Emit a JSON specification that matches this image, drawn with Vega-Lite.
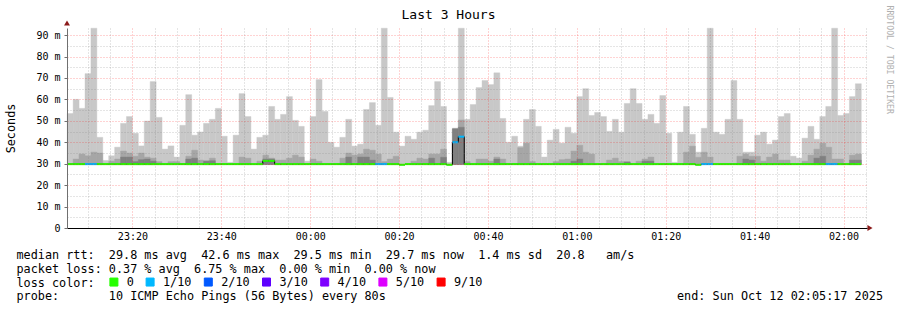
{
"$schema": "https://vega.github.io/schema/vega-lite/v6.json",
"width": 800, "height": 200,
"autosize": "none",
"padding": {"left": 67, "top": 28, "right": 30, "bottom": 82},
"background": "#ffffff",
"config": {"view": {"stroke": null}},
"title": {"text": "Last 3 Hours", "font": "DejaVu Sans Mono", "fontSize": 13, "fontWeight": "normal", "color": "#000000", "anchor": "middle", "frame": "group", "dx": -18.5, "dy": 21, "offset": 4},
"data": {"values": [
{"t":"2025-10-11T23:05:20","t2":"2025-10-11T23:06:40","mx":53.4,"med":29.8,"loss":"0"},
{"t":"2025-10-11T23:06:40","t2":"2025-10-11T23:08:00","mx":60,"p2":32.2,"med":29.8,"loss":"0"},
{"t":"2025-10-11T23:08:00","t2":"2025-10-11T23:09:20","mx":55.8,"p2":34.5,"med":29.8,"loss":"0"},
{"t":"2025-10-11T23:09:20","t2":"2025-10-11T23:10:40","mx":72,"p2":33.7,"med":29.8,"loss":"1/10"},
{"t":"2025-10-11T23:10:40","t2":"2025-10-11T23:12:00","mx":93.2,"p2":35.4,"med":29.8,"loss":"1/10"},
{"t":"2025-10-11T23:12:00","t2":"2025-10-11T23:13:20","mx":42.3,"p2":35,"med":29.8,"loss":"0"},
{"t":"2025-10-11T23:13:20","t2":"2025-10-11T23:14:40","mx":31.5,"med":29.8,"loss":"0"},
{"t":"2025-10-11T23:14:40","t2":"2025-10-11T23:16:00","mx":33.7,"p2":31.2,"med":29.8,"loss":"0"},
{"t":"2025-10-11T23:16:00","t2":"2025-10-11T23:17:20","mx":37.7,"p2":32.2,"med":29.8,"loss":"0"},
{"t":"2025-10-11T23:17:20","t2":"2025-10-11T23:18:40","mx":48.8,"p2":35.9,"p3":33.1,"med":29.8,"loss":"0"},
{"t":"2025-10-11T23:18:40","t2":"2025-10-11T23:20:00","mx":52,"p2":35,"p3":33.1,"med":29.8,"loss":"0"},
{"t":"2025-10-11T23:20:00","t2":"2025-10-11T23:21:20","mx":44.2,"p2":33.5,"p3":31,"med":29.8,"loss":"0"},
{"t":"2025-10-11T23:21:20","t2":"2025-10-11T23:22:40","mx":38.3,"p2":35,"p3":31.9,"med":29.8,"loss":"0"},
{"t":"2025-10-11T23:22:40","t2":"2025-10-11T23:24:00","mx":49.9,"p2":33.1,"p3":32.2,"med":29.8,"loss":"0"},
{"t":"2025-10-11T23:24:00","t2":"2025-10-11T23:25:20","mx":68.3,"p2":32.6,"p3":31.2,"med":29.8,"loss":"0"},
{"t":"2025-10-11T23:25:20","t2":"2025-10-11T23:26:40","mx":51.6,"p2":31,"med":29.8,"loss":"0"},
{"t":"2025-10-11T23:26:40","t2":"2025-10-11T23:28:00","mx":36.8,"med":29.8,"loss":"0"},
{"t":"2025-10-11T23:28:00","t2":"2025-10-11T23:29:20","mx":38.3,"p2":31,"med":29.8,"loss":"0"},
{"t":"2025-10-11T23:29:20","t2":"2025-10-11T23:30:40","mx":33.1,"p2":31,"med":29.8,"loss":"0"},
{"t":"2025-10-11T23:30:40","t2":"2025-10-11T23:32:00","mx":47.9,"med":29.8,"loss":"0"},
{"t":"2025-10-11T23:32:00","t2":"2025-10-11T23:33:20","mx":62.2,"p2":33.5,"p3":32.2,"med":29.8,"loss":"0"},
{"t":"2025-10-11T23:33:20","t2":"2025-10-11T23:34:40","mx":43.3,"p2":36.3,"p3":32.6,"med":29.8,"loss":"0"},
{"t":"2025-10-11T23:34:40","t2":"2025-10-11T23:36:00","mx":44.8,"p2":31.7,"med":29.8,"loss":"0"},
{"t":"2025-10-11T23:36:00","t2":"2025-10-11T23:37:20","mx":48.8,"p2":31.4,"p3":31.2,"med":29.8,"loss":"0"},
{"t":"2025-10-11T23:37:20","t2":"2025-10-11T23:38:40","mx":50.7,"p2":32.6,"p3":31.4,"med":29.8,"loss":"0"},
{"t":"2025-10-11T23:38:40","t2":"2025-10-11T23:40:00","mx":55.8,"med":29.8,"loss":"0"},
{"t":"2025-10-11T23:40:00","t2":"2025-10-11T23:41:20","mx":42.8,"med":29.8,"loss":"0"},
{"t":"2025-10-11T23:41:20","t2":"2025-10-11T23:42:40","mx":30.6,"med":29.8,"loss":"0"},
{"t":"2025-10-11T23:42:40","t2":"2025-10-11T23:44:00","mx":43.3,"med":29.8,"loss":"0"},
{"t":"2025-10-11T23:44:00","t2":"2025-10-11T23:45:20","mx":62.7,"p2":33.1,"med":29.8,"loss":"0"},
{"t":"2025-10-11T23:45:20","t2":"2025-10-11T23:46:40","mx":52,"p2":32.6,"med":29.8,"loss":"0"},
{"t":"2025-10-11T23:46:40","t2":"2025-10-11T23:48:00","mx":36.8,"med":29.8,"loss":"0"},
{"t":"2025-10-11T23:48:00","t2":"2025-10-11T23:49:20","mx":42.3,"p2":31.2,"med":29.8,"loss":"0"},
{"t":"2025-10-11T23:49:20","t2":"2025-10-11T23:50:40","mx":43.3,"p2":34,"p3":32.2,"med":31.3,"loss":"0"},
{"t":"2025-10-11T23:50:40","t2":"2025-10-11T23:52:00","mx":56.7,"p2":32.6,"p3":32.2,"med":31.3,"loss":"0"},
{"t":"2025-10-11T23:52:00","t2":"2025-10-11T23:53:20","mx":50.7,"p2":31.7,"med":29.8,"loss":"0"},
{"t":"2025-10-11T23:53:20","t2":"2025-10-11T23:54:40","mx":53,"p2":31.7,"med":29.8,"loss":"0"},
{"t":"2025-10-11T23:54:40","t2":"2025-10-11T23:56:00","mx":61.3,"p2":32.6,"med":29.8,"loss":"0"},
{"t":"2025-10-11T23:56:00","t2":"2025-10-11T23:57:20","mx":50.2,"p2":34,"med":29.8,"loss":"0"},
{"t":"2025-10-11T23:57:20","t2":"2025-10-11T23:58:40","mx":47.4,"p2":33.1,"med":29.8,"loss":"0"},
{"t":"2025-10-11T23:58:40","t2":"2025-10-12T00:00:00","mx":31.2,"med":29.8,"loss":"0"},
{"t":"2025-10-12T00:00:00","t2":"2025-10-12T00:01:20","mx":52,"p2":32.2,"med":29.8,"loss":"0"},
{"t":"2025-10-12T00:01:20","t2":"2025-10-12T00:02:40","mx":69.2,"p2":31.2,"med":29.8,"loss":"0"},
{"t":"2025-10-12T00:02:40","t2":"2025-10-12T00:04:00","mx":54.4,"med":29.8,"loss":"0"},
{"t":"2025-10-12T00:04:00","t2":"2025-10-12T00:05:20","mx":40,"med":29.8,"loss":"0"},
{"t":"2025-10-12T00:05:20","t2":"2025-10-12T00:06:40","mx":37.7,"med":29.8,"loss":"0"},
{"t":"2025-10-12T00:06:40","t2":"2025-10-12T00:08:00","mx":42.3,"p2":32.6,"med":29.8,"loss":"0"},
{"t":"2025-10-12T00:08:00","t2":"2025-10-12T00:09:20","mx":50.7,"p2":35,"p3":33.1,"med":29.8,"loss":"0"},
{"t":"2025-10-12T00:09:20","t2":"2025-10-12T00:10:40","mx":38.2,"p2":34,"med":29.8,"loss":"0"},
{"t":"2025-10-12T00:10:40","t2":"2025-10-12T00:12:00","mx":39.1,"p2":34.5,"p3":33.1,"med":29.8,"loss":"0"},
{"t":"2025-10-12T00:12:00","t2":"2025-10-12T00:13:20","mx":55.3,"p2":36.8,"p3":33.1,"med":29.8,"loss":"0"},
{"t":"2025-10-12T00:13:20","t2":"2025-10-12T00:14:40","mx":58.5,"p2":36.3,"p3":31.7,"med":29.8,"loss":"0"},
{"t":"2025-10-12T00:14:40","t2":"2025-10-12T00:16:00","mx":47.9,"p2":34.5,"med":29.8,"loss":"1/10"},
{"t":"2025-10-12T00:16:00","t2":"2025-10-12T00:17:20","mx":93.2,"p2":31,"med":29.8,"loss":"1/10"},
{"t":"2025-10-12T00:17:20","t2":"2025-10-12T00:18:40","mx":60.9,"p2":32.2,"med":29.8,"loss":"0"},
{"t":"2025-10-12T00:18:40","t2":"2025-10-12T00:20:00","mx":44.7,"p2":33.5,"med":29.8,"loss":"0"},
{"t":"2025-10-12T00:20:00","t2":"2025-10-12T00:21:20","mx":38.2,"med":29.5,"loss":"0"},
{"t":"2025-10-12T00:21:20","t2":"2025-10-12T00:22:40","mx":42.8,"med":29.8,"loss":"0"},
{"t":"2025-10-12T00:22:40","t2":"2025-10-12T00:24:00","mx":41.4,"p2":31.2,"med":29.8,"loss":"0"},
{"t":"2025-10-12T00:24:00","t2":"2025-10-12T00:25:20","mx":44.7,"p2":32.6,"med":29.8,"loss":"0"},
{"t":"2025-10-12T00:25:20","t2":"2025-10-12T00:26:40","mx":45.6,"p2":32.2,"med":29.8,"loss":"0"},
{"t":"2025-10-12T00:26:40","t2":"2025-10-12T00:28:00","mx":57.1,"p2":34.5,"p3":32.6,"med":29.8,"loss":"0"},
{"t":"2025-10-12T00:28:00","t2":"2025-10-12T00:29:20","mx":68.3,"p2":34.5,"med":29.8,"loss":"0"},
{"t":"2025-10-12T00:29:20","t2":"2025-10-12T00:30:40","mx":56.7,"p2":36.8,"p3":33,"med":29.8,"loss":"0"},
{"t":"2025-10-12T00:30:40","t2":"2025-10-12T00:32:00","mx":30.6,"med":29.5,"loss":"0"},
{"t":"2025-10-12T00:32:00","t2":"2025-10-12T00:33:20","mx":46.5,"p2":46.5,"p3":46.2,"med":40,"loss":"1/10"},
{"t":"2025-10-12T00:33:20","t2":"2025-10-12T00:34:40","mx":93.2,"p2":50.4,"p3":47,"med":42.6,"loss":"1/10"},
{"t":"2025-10-12T00:34:40","t2":"2025-10-12T00:36:00","mx":50.7,"p2":31,"med":29.8,"loss":"0"},
{"t":"2025-10-12T00:36:00","t2":"2025-10-12T00:37:20","mx":57.6,"med":29.8,"loss":"0"},
{"t":"2025-10-12T00:37:20","t2":"2025-10-12T00:38:40","mx":65.5,"p2":32.2,"med":29.8,"loss":"0"},
{"t":"2025-10-12T00:38:40","t2":"2025-10-12T00:40:00","mx":68.8,"p2":32.2,"med":29.8,"loss":"0"},
{"t":"2025-10-12T00:40:00","t2":"2025-10-12T00:41:20","mx":66.9,"p2":31.2,"med":29.8,"loss":"0"},
{"t":"2025-10-12T00:41:20","t2":"2025-10-12T00:42:40","mx":72.4,"p2":33.1,"p3":32.2,"med":29.8,"loss":"0"},
{"t":"2025-10-12T00:42:40","t2":"2025-10-12T00:44:00","mx":51.1,"p2":32.2,"med":29.8,"loss":"0"},
{"t":"2025-10-12T00:44:00","t2":"2025-10-12T00:45:20","mx":40,"med":29.8,"loss":"0"},
{"t":"2025-10-12T00:45:20","t2":"2025-10-12T00:46:40","mx":42.8,"med":29.8,"loss":"0"},
{"t":"2025-10-12T00:46:40","t2":"2025-10-12T00:48:00","mx":38.2,"p2":37.5,"med":29.8,"loss":"0"},
{"t":"2025-10-12T00:48:00","t2":"2025-10-12T00:49:20","mx":50.7,"p2":39.6,"med":29.8,"loss":"0"},
{"t":"2025-10-12T00:49:20","t2":"2025-10-12T00:50:40","mx":55.3,"p2":31,"med":29.8,"loss":"0"},
{"t":"2025-10-12T00:50:40","t2":"2025-10-12T00:52:00","mx":47.4,"med":29.8,"loss":"0"},
{"t":"2025-10-12T00:52:00","t2":"2025-10-12T00:53:20","mx":33.1,"med":29.8,"loss":"0"},
{"t":"2025-10-12T00:53:20","t2":"2025-10-12T00:54:40","mx":41,"med":29.8,"loss":"0"},
{"t":"2025-10-12T00:54:40","t2":"2025-10-12T00:56:00","mx":46,"p2":31,"med":29.8,"loss":"0"},
{"t":"2025-10-12T00:56:00","t2":"2025-10-12T00:57:20","mx":39.6,"p2":31.9,"med":29.8,"loss":"0"},
{"t":"2025-10-12T00:57:20","t2":"2025-10-12T00:58:40","mx":47,"p2":32.2,"med":29.8,"loss":"0"},
{"t":"2025-10-12T00:58:40","t2":"2025-10-12T01:00:00","mx":44.2,"p2":35.9,"p3":31.2,"med":29.8,"loss":"0"},
{"t":"2025-10-12T01:00:00","t2":"2025-10-12T01:01:20","mx":61.3,"p2":38.6,"p3":32.2,"med":29.8,"loss":"0"},
{"t":"2025-10-12T01:01:20","t2":"2025-10-12T01:02:40","mx":65,"p2":35.4,"med":29.8,"loss":"0"},
{"t":"2025-10-12T01:02:40","t2":"2025-10-12T01:04:00","mx":52.5,"p2":34.5,"med":29.8,"loss":"0"},
{"t":"2025-10-12T01:04:00","t2":"2025-10-12T01:05:20","mx":53.9,"med":29.8,"loss":"0"},
{"t":"2025-10-12T01:05:20","t2":"2025-10-12T01:06:40","mx":52,"med":29.8,"loss":"0"},
{"t":"2025-10-12T01:06:40","t2":"2025-10-12T01:08:00","mx":45.1,"p2":31.7,"med":29.8,"loss":"0"},
{"t":"2025-10-12T01:08:00","t2":"2025-10-12T01:09:20","mx":50.7,"p2":32.6,"med":29.8,"loss":"0"},
{"t":"2025-10-12T01:09:20","t2":"2025-10-12T01:10:40","mx":44.7,"p2":31,"med":29.8,"loss":"0"},
{"t":"2025-10-12T01:10:40","t2":"2025-10-12T01:12:00","mx":58.1,"p2":31,"p3":30.8,"med":29.8,"loss":"0"},
{"t":"2025-10-12T01:12:00","t2":"2025-10-12T01:13:20","mx":65,"med":29.8,"loss":"0"},
{"t":"2025-10-12T01:13:20","t2":"2025-10-12T01:14:40","mx":58.1,"p2":31.2,"med":29.8,"loss":"0"},
{"t":"2025-10-12T01:14:40","t2":"2025-10-12T01:16:00","mx":50.7,"p2":32.2,"p3":31.2,"med":29.8,"loss":"0"},
{"t":"2025-10-12T01:16:00","t2":"2025-10-12T01:17:20","mx":53,"p2":33.1,"p3":31.2,"med":29.8,"loss":"0"},
{"t":"2025-10-12T01:17:20","t2":"2025-10-12T01:18:40","mx":48.8,"med":29.8,"loss":"0"},
{"t":"2025-10-12T01:18:40","t2":"2025-10-12T01:20:00","mx":61.8,"med":29.8,"loss":"0"},
{"t":"2025-10-12T01:20:00","t2":"2025-10-12T01:21:20","mx":44.2,"med":29.8,"loss":"0"},
{"t":"2025-10-12T01:21:20","t2":"2025-10-12T01:22:40","mx":30.6,"med":29.8,"loss":"0"},
{"t":"2025-10-12T01:22:40","t2":"2025-10-12T01:24:00","mx":44.7,"med":29.8,"loss":"0"},
{"t":"2025-10-12T01:24:00","t2":"2025-10-12T01:25:20","mx":56.7,"p2":35.4,"med":29.8,"loss":"0"},
{"t":"2025-10-12T01:25:20","t2":"2025-10-12T01:26:40","mx":43.7,"p2":38.2,"med":29.8,"loss":"0"},
{"t":"2025-10-12T01:26:40","t2":"2025-10-12T01:28:00","mx":35.4,"p2":33,"med":29.5,"loss":"0"},
{"t":"2025-10-12T01:28:00","t2":"2025-10-12T01:29:20","mx":46.5,"p2":35.4,"med":29.8,"loss":"1/10"},
{"t":"2025-10-12T01:29:20","t2":"2025-10-12T01:30:40","mx":93.2,"p2":33.1,"med":29.8,"loss":"1/10"},
{"t":"2025-10-12T01:30:40","t2":"2025-10-12T01:32:00","mx":44.7,"med":29.8,"loss":"0"},
{"t":"2025-10-12T01:32:00","t2":"2025-10-12T01:33:20","mx":43.7,"med":29.8,"loss":"0"},
{"t":"2025-10-12T01:33:20","t2":"2025-10-12T01:34:40","mx":50.7,"med":29.8,"loss":"0"},
{"t":"2025-10-12T01:34:40","t2":"2025-10-12T01:36:00","mx":68.8,"med":29.8,"loss":"0"},
{"t":"2025-10-12T01:36:00","t2":"2025-10-12T01:37:20","mx":50.7,"p2":33.5,"med":29.8,"loss":"0"},
{"t":"2025-10-12T01:37:20","t2":"2025-10-12T01:38:40","mx":35.4,"p2":34.5,"p3":32.2,"med":29.8,"loss":"0"},
{"t":"2025-10-12T01:38:40","t2":"2025-10-12T01:40:00","mx":35.4,"p2":33.5,"p3":31.7,"med":29.8,"loss":"0"},
{"t":"2025-10-12T01:40:00","t2":"2025-10-12T01:41:20","mx":43.3,"p2":33.5,"med":29.8,"loss":"0"},
{"t":"2025-10-12T01:41:20","t2":"2025-10-12T01:42:40","mx":44.7,"p2":31.2,"med":29.8,"loss":"0"},
{"t":"2025-10-12T01:42:40","t2":"2025-10-12T01:44:00","mx":39.1,"p2":33.1,"med":29.8,"loss":"0"},
{"t":"2025-10-12T01:44:00","t2":"2025-10-12T01:45:20","mx":41,"p2":34.5,"med":29.8,"loss":"0"},
{"t":"2025-10-12T01:45:20","t2":"2025-10-12T01:46:40","mx":52,"p2":31.7,"med":29.8,"loss":"0"},
{"t":"2025-10-12T01:46:40","t2":"2025-10-12T01:48:00","mx":53.4,"p2":31.7,"med":29.8,"loss":"0"},
{"t":"2025-10-12T01:48:00","t2":"2025-10-12T01:49:20","mx":33.5,"med":29.8,"loss":"0"},
{"t":"2025-10-12T01:49:20","t2":"2025-10-12T01:50:40","mx":32.6,"med":29.8,"loss":"0"},
{"t":"2025-10-12T01:50:40","t2":"2025-10-12T01:52:00","mx":41.9,"p2":31.2,"med":29.8,"loss":"0"},
{"t":"2025-10-12T01:52:00","t2":"2025-10-12T01:53:20","mx":47.4,"p2":34,"med":29.8,"loss":"0"},
{"t":"2025-10-12T01:53:20","t2":"2025-10-12T01:54:40","mx":41.4,"p2":36.8,"p3":32.6,"med":29.8,"loss":"0"},
{"t":"2025-10-12T01:54:40","t2":"2025-10-12T01:56:00","mx":52,"p2":39.6,"p3":33.5,"med":29.8,"loss":"0"},
{"t":"2025-10-12T01:56:00","t2":"2025-10-12T01:57:20","mx":56.7,"p2":37.7,"med":29.8,"loss":"1/10"},
{"t":"2025-10-12T01:57:20","t2":"2025-10-12T01:58:40","mx":93.2,"p2":32.2,"med":29.8,"loss":"1/10"},
{"t":"2025-10-12T01:58:40","t2":"2025-10-12T02:00:00","mx":52.5,"p2":32.2,"med":29.8,"loss":"0"},
{"t":"2025-10-12T02:00:00","t2":"2025-10-12T02:01:20","mx":53.4,"med":29.8,"loss":"0"},
{"t":"2025-10-12T02:01:20","t2":"2025-10-12T02:02:40","mx":61.3,"p2":34,"p3":31.7,"med":29.8,"loss":"0"},
{"t":"2025-10-12T02:02:40","t2":"2025-10-12T02:04:00","mx":67.3,"p2":34.5,"p3":31.7,"med":29.8,"loss":"0"}
]},
"resolve": {"axis": {"x": "independent", "y": "independent"}},
"layer": [
{"mark": {"type": "rect", "color": "#c8c8c8", "stroke": "#c8c8c8", "strokeWidth": 0.4},
 "encoding": {
  "x": {"field": "t", "type": "temporal",
   "scale": {"domain": [{"year": 2025, "month": "oct", "date": 11, "hours": 23, "minutes": 5, "seconds": 17}, {"year": 2025, "month": "oct", "date": 12, "hours": 2, "minutes": 5, "seconds": 17}], "nice": false},
   "axis": {
    "orient": "bottom",
    "tickCount": 36,
    "labelExpr": "minutes(datum.value) % 20 === 0 ? timeFormat(datum.value, '%H:%M') : ''",
    "labelFont": "DejaVu Sans Mono", "labelFontSize": 10, "labelColor": "#000000", "labelPadding": 3, "labelOverlap": false, "labelFlush": false, "labelBaseline": "top",
    "tickSize": 0,
    "domainColor": "#000000",
    "grid": true,
    "gridColor": {"condition": {"test": "minutes(datum.value) % 20 === 0", "value": "rgba(255,0,0,0.35)"}, "value": "rgba(128,128,128,0.4)"},
    "gridDash": [1, 2],
    "title": ["median rtt:\u00a0\u00a029.8 ms avg\u00a0\u00a042.6 ms max\u00a0\u00a029.5 ms min\u00a0\u00a029.7 ms now\u00a0\u00a01.4 ms sd\u00a0\u00a020.8\u00a0\u00a0\u00a0am/s", "packet loss: 0.37 % avg\u00a0\u00a06.75 % max\u00a0\u00a00.00 % min\u00a0\u00a00.00 % now", "loss color:", "probe:\u00a0\u00a0\u00a0\u00a0\u00a0\u00a0\u00a010 ICMP Echo Pings (56 Bytes) every 80s\u00a0\u00a0\u00a0\u00a0\u00a0\u00a0\u00a0\u00a0\u00a0\u00a0\u00a0\u00a0\u00a0\u00a0\u00a0\u00a0\u00a0\u00a0\u00a0\u00a0\u00a0\u00a0\u00a0\u00a0\u00a0\u00a0\u00a0\u00a0\u00a0\u00a0\u00a0\u00a0\u00a0\u00a0\u00a0\u00a0\u00a0\u00a0\u00a0\u00a0\u00a0end: Sun Oct 12 02:05:17 2025"],
    "titleFont": "DejaVu Sans Mono", "titleFontSize": 11.8, "titleFontWeight": "normal", "titleColor": "#000000",
    "titleX": -51, "titleY": 30.3, "titleAlign": "left", "titleBaseline": "alphabetic", "titleLineHeight": 13.9,
    "zindex": 1
   }},
  "x2": {"field": "t2"},
  "y": {"field": "mx", "type": "quantitative",
   "scale": {"domain": [0, 93.3], "nice": false, "zero": false},
   "axis": {
    "orient": "left",
    "values": [0, 5, 10, 15, 20, 25, 30, 35, 40, 45, 50, 55, 60, 65, 70, 75, 80, 85, 90],
    "labelExpr": "datum.value === 0 ? '0\u00a0\u00a0' : (datum.value % 10 === 0 ? datum.value + ' m' : '')",
    "labelFont": "DejaVu Sans Mono", "labelFontSize": 10, "labelColor": "#000000", "labelPadding": 4, "labelOverlap": false,
    "tickSize": 3,
    "tickColor": {"condition": {"test": "datum.value % 10 === 0", "value": "#707070"}, "value": "rgba(0,0,0,0)"},
    "domainColor": "#707070",
    "grid": true,
    "gridColor": {"condition": {"test": "datum.value % 10 === 0", "value": "rgba(255,0,0,0.35)"}, "value": "rgba(128,128,128,0.4)"},
    "gridDash": [1, 2],
    "title": "Seconds", "titleFont": "DejaVu Sans Mono", "titleFontSize": 11.8, "titleFontWeight": "normal", "titleColor": "#000000",
    "titleAngle": 270, "titleX": -57, "titleY": 100, "titleAlign": "center", "titleBaseline": "middle",
    "zindex": 1
   }},
  "y2": {"datum": 29.6}
 }},
{"transform": [{"filter": "isValid(datum.p2)"}],
 "mark": {"type": "rect", "color": "#a6a6a6", "stroke": "#a6a6a6", "strokeWidth": 0.4},
 "encoding": {
  "x": {"field": "t", "type": "temporal", "axis": null},
  "x2": {"field": "t2"},
  "y": {"field": "p2", "type": "quantitative",
   "axis": {"orient": "right", "domain": false, "ticks": false, "labels": false, "grid": false,
    "title": "RRDTOOL / TOBI OETIKER", "titleFont": "DejaVu Sans Mono", "titleFontSize": 8.2, "titleFontWeight": "normal", "titleColor": "#b0b0b0",
    "titleAngle": 90, "titleX": 21, "titleY": -23, "titleAlign": "left", "titleBaseline": "middle"}},
  "y2": {"datum": 29.6}
 }},
{"transform": [{"filter": "isValid(datum.p3)"}],
 "mark": {"type": "rect", "color": "#808080", "stroke": "#808080", "strokeWidth": 0.4},
 "encoding": {
  "x": {"field": "t", "type": "temporal", "axis": null},
  "x2": {"field": "t2"},
  "y": {"field": "p3", "type": "quantitative", "axis": null},
  "y2": {"datum": 29.6}
 }},
{"mark": {"type": "line", "interpolate": "step-after", "color": "#000000", "strokeWidth": 1},
 "encoding": {
  "x": {"field": "t", "type": "temporal", "axis": null},
  "y": {"field": "med", "type": "quantitative", "axis": null}
 }},
{"mark": {"type": "rule", "strokeWidth": 2},
 "encoding": {
  "x": {"field": "t", "type": "temporal", "axis": null},
  "x2": {"field": "t2"},
  "y": {"field": "med", "type": "quantitative", "axis": null},
  "color": {"field": "loss", "type": "nominal",
   "scale": {"domain": ["0", "1/10", "2/10", "3/10", "4/10", "5/10", "9/10"], "range": ["#26ff00", "#00b8ff", "#0059ff", "#5e00ff", "#7e00ff", "#dd00ff", "#ff0000"]},
   "legend": {"orient": "none", "legendX": 41, "legendY": 248, "direction": "horizontal",
    "title": null,
    "labelFont": "DejaVu Sans Mono", "labelFontSize": 11.8, "labelColor": "#000000", "labelOffset": 7, "columnPadding": 9.2,
    "symbolType": "square", "symbolSize": 64, "symbolStrokeWidth": 1, "symbolStrokeColor": "#000000",
    "encode": {"symbols": {"update": {"fill": {"scale": "color", "field": "value"}, "stroke": {"value": "#000000"}, "opacity": {"value": 1}, "fillOpacity": {"value": 1}}}}}}
 }},
{"data": {"values": [{}]},
 "mark": {"type": "point", "shape": "triangle-up", "filled": true, "size": 35, "color": "#8b1a1a", "opacity": 1, "yOffset": -5},
 "encoding": {
  "x": {"datum": {"year": 2025, "month": "oct", "date": 11, "hours": 23, "minutes": 5, "seconds": 17}, "type": "temporal", "axis": null},
  "y": {"datum": 93.3, "type": "quantitative", "axis": null}
 }},
{"data": {"values": [{}]},
 "mark": {"type": "point", "shape": "triangle-right", "filled": true, "size": 35, "color": "#8b1a1a", "opacity": 1, "xOffset": 3},
 "encoding": {
  "x": {"datum": {"year": 2025, "month": "oct", "date": 12, "hours": 2, "minutes": 5, "seconds": 17}, "type": "temporal", "axis": null},
  "y": {"datum": 0, "type": "quantitative", "axis": null}
 }}
]
}
